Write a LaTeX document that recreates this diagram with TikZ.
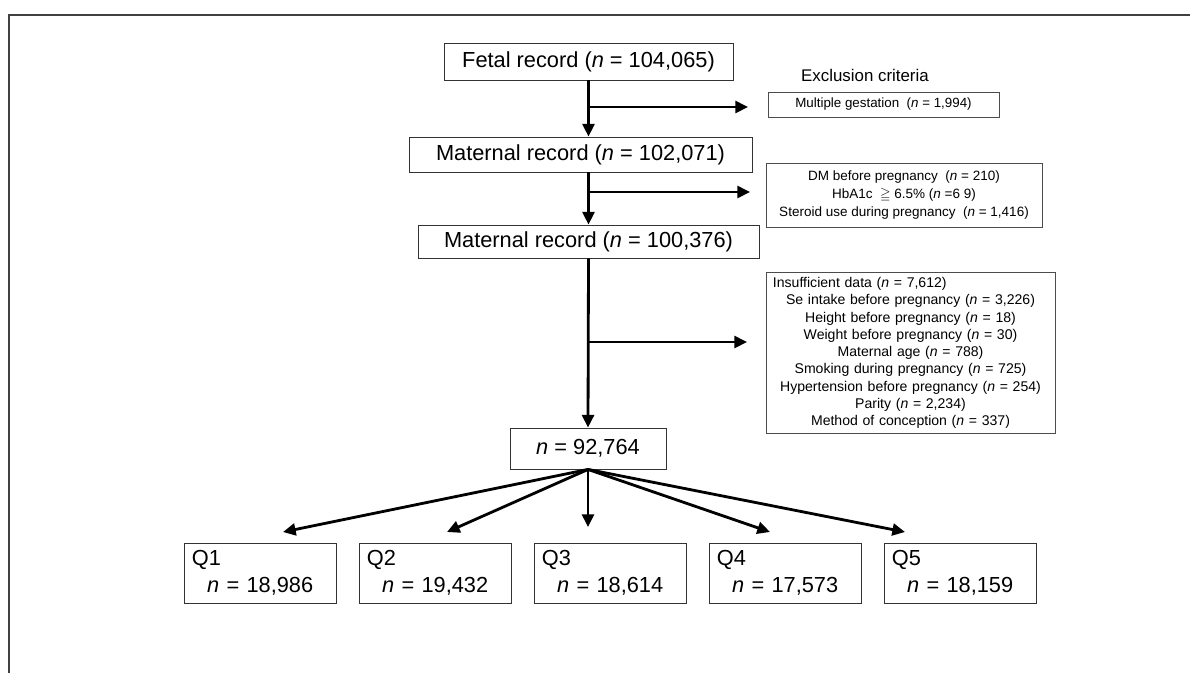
\documentclass[tikz,border=0pt]{standalone}
\usepackage{amssymb}
\usepackage{fontspec}
\setmainfont{Liberation Sans}
\usepackage{tikz}
\usetikzlibrary{positioning,calc,arrows.meta}

\newcommand{\nn}{\textit{n}}

\begin{document}
\begin{tikzpicture}[x=0.025cm, y=-0.025cm, >={Triangle[length=9pt,width=8.5pt]},
	bigbox/.style={draw=black!80, line width=0.6pt, font=\fontsize{15.5}{18}\selectfont},
	smallbox/.style={draw=black!70, line width=0.6pt, align=center, font=\fontsize{9.6}{13}\selectfont},
	qbox/.style={draw=black!80, line width=0.6pt, minimum width=3.8cm, minimum height=1.5cm, inner xsep=0.2cm, text width=3.4cm, align=left, font=\fontsize{15.5}{18.9}\selectfont},
	flow/.style={->, line width=2pt}]
	\useasboundingbox (0,0) rectangle (1190,673);
	% Cadre
	\draw[line width=1.5pt, black!75] (9,673) -- (9,15) -- (1190,15);
	
	% Colonne principale
	\node[bigbox, minimum width=7.225cm, minimum height=0.925cm] (fetal) at (588.5, 61.5) {Fetal record (\nn{} = 104,065)};
	\node[bigbox, minimum width=8.575cm, minimum height=0.875cm] (mat1) at (580.5, 154.5) {Maternal record (\nn{} = 102,071)};
	\node[bigbox, minimum width=8.525cm, minimum height=0.825cm] (mat2) at (588.5, 241.5) {Maternal record (\nn{} = 100,376)};
	\node[bigbox, minimum width=3.9cm, minimum height=1.025cm] (total) at (588, 448.5) {\nn{} = 92,764};
	
	\draw[flow] (fetal.south) -- (fetal.south |- mat1.north);
	\draw[flow] (mat2.north |- mat1.south) -- (mat2.north);
	\draw[flow] (mat2.south) -- (total.north);
	
	% Critères d'exclusion
	\node[font=\fontsize{12}{14}\selectfont] (crit) at (865, 75) {Exclusion criteria};
	\node[smallbox, font=\fontsize{9.5}{12}\selectfont, minimum width=5.775cm, minimum height=0.625cm] (multi) at (883.5, 104.5) {Multiple gestation\ \ (\nn{} = 1,994)};
	\node[smallbox, minimum width=6.9cm, minimum height=1.6cm] (dm) at (904, 195) {DM before pregnancy\ \ (\nn{} = 210)\\ HbA1c\ \ $\geqq$ 6.5\% (\nn{} =6 9)\\ Steroid use during pregnancy\ \ (\nn{} = 1,416)};
	\node[smallbox, font=\fontsize{10}{12.3}\selectfont, minimum width=7.225cm, minimum height=4cm, inner xsep=0.175cm, text width=6.875cm] (insuf) at (910.5, 353) {\makebox[6.875cm][l]{Insufficient data (\nn{} = 7,612)}\\ Se intake before pregnancy (\nn{} = 3,226)\\ Height before pregnancy (\nn{} = 18)\\ Weight before pregnancy (\nn{} = 30)\\ Maternal age (\nn{} = 788)\\ Smoking during pregnancy (\nn{} = 725)\\ Hypertension before pregnancy (\nn{} = 254)\\ Parity (\nn{} = 2,234)\\ Method of conception (\nn{} = 337)};
	
	\coordinate (b1) at (588, 107);
	\coordinate (e1) at (748, 107);
	\draw[flow] (b1) -- (e1);
	\coordinate (b2) at (588, 192);
	\coordinate (e2) at (750, 192);
	\draw[flow] (b2) -- (e2);
	\coordinate (b3) at (588, 342);
	\coordinate (e3) at (747, 342);
	\draw[flow] (b3) -- (e3);
	
	% Quintiles
	\node[qbox] (q1) at (260, 573) {Q1\\\hspace*{0.38cm}\nn{} = 18,986};
	\node[qbox] (q2) at (435, 573) {Q2\\\hspace*{0.38cm}\nn{} = 19,432};
	\node[qbox] (q3) at (610, 573) {Q3\\\hspace*{0.38cm}\nn{} = 18,614};
	\node[qbox] (q4) at (785, 573) {Q4\\\hspace*{0.38cm}\nn{} = 17,573};
	\node[qbox] (q5) at (960, 573) {Q5\\\hspace*{0.38cm}\nn{} = 18,159};
	
	\coordinate (t1) at (283, 532);
	\coordinate (t2) at (447, 532);
	\coordinate (t3) at (588, 527);
	\coordinate (t4) at (770, 532);
	\coordinate (t5) at (905, 532);
	\draw[flow] (total.south) -- (t1);
	\draw[flow] (total.south) -- (t2);
	\draw[flow] (total.south) -- (t3);
	\draw[flow] (total.south) -- (t4);
	\draw[flow] (total.south) -- (t5);
\end{tikzpicture}
\end{document}
